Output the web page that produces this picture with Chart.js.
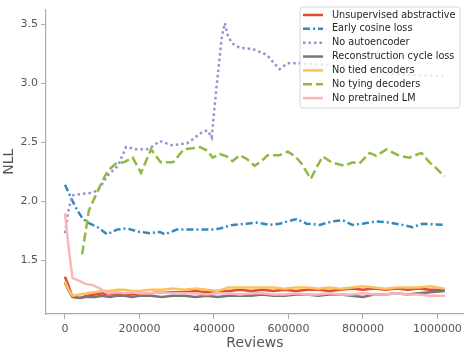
<!DOCTYPE html>
<html>
<head>
<meta charset="utf-8">
<script src="https://cdn.jsdelivr.net/npm/chart.js@4.4.1/dist/chart.umd.min.js"></script>
<style>
html,body{margin:0;padding:0;background:#fff;}
#wrap{width:466px;height:352px;position:relative;}
</style>
</head>
<body>
<div id="wrap"><canvas id="c" width="466" height="352"></canvas></div>
<script>
const seriesLabels = ["Unsupervised abstractive","Early cosine loss","No autoencoder","Reconstruction cycle loss","No tied encoders","No tying decoders","No pretrained LM"];
const xTicks = [0,200000,400000,600000,800000,1000000];
const yTicks = [1.5,2.0,2.5,3.0,3.5];

const redX = [0,10000,20000,40000,60000,80000,100000,120000,140000,160000,180000,200000,230000,260000,290000,320000,350000,380000,410000,440000,470000,500000,530000,560000,590000,620000,650000,680000,710000,740000,770000,800000,830000,860000,890000,920000,950000,980000,1020000];
const redY = [1.36,1.28,1.19,1.18,1.20,1.21,1.22,1.21,1.22,1.21,1.21,1.22,1.22,1.23,1.23,1.23,1.24,1.23,1.24,1.24,1.25,1.24,1.25,1.24,1.25,1.24,1.25,1.25,1.24,1.25,1.26,1.25,1.26,1.25,1.26,1.25,1.26,1.25,1.25];

const blueX = [0,19000,32000,48000,67000,88000,113000,139000,166000,201000,228000,255000,268000,300000,327000,362000,397000,416000,450000,488000,515000,550000,576000,622000,649000,684000,718000,745000,772000,799000,836000,871000,906000,933000,960000,1020000];
const blueY = [2.14,2.01,1.93,1.85,1.81,1.78,1.72,1.76,1.77,1.74,1.73,1.74,1.72,1.76,1.76,1.76,1.76,1.77,1.80,1.81,1.82,1.80,1.81,1.85,1.81,1.80,1.83,1.84,1.80,1.81,1.83,1.82,1.80,1.78,1.81,1.80];

const purpleX = [0,8000,19000,40000,67000,88000,115000,142000,164000,193000,220000,233000,255000,287000,327000,343000,370000,383000,394000,402000,410000,421000,429000,437000,448000,469000,504000,542000,576000,598000,622000,684000,764000,853000,925000,1020000];
const purpleY = [1.73,1.90,2.05,2.06,2.07,2.09,2.22,2.30,2.46,2.44,2.44,2.46,2.51,2.475,2.49,2.525,2.59,2.60,2.54,2.81,3.06,3.39,3.51,3.41,3.34,3.30,3.29,3.24,3.12,3.17,3.17,3.16,3.14,3.09,3.07,3.06];

const greyX = [0,10000,20000,40000,60000,80000,100000,120000,140000,160000,180000,200000,230000,260000,290000,320000,350000,380000,410000,440000,470000,500000,530000,560000,590000,620000,650000,680000,710000,740000,770000,800000,830000,860000,890000,920000,950000,980000,1020000];
const greyY = [1.31,1.24,1.19,1.18,1.19,1.19,1.20,1.19,1.20,1.20,1.19,1.20,1.20,1.19,1.20,1.20,1.19,1.20,1.19,1.20,1.20,1.20,1.21,1.20,1.20,1.21,1.21,1.20,1.21,1.21,1.20,1.19,1.21,1.21,1.22,1.21,1.22,1.23,1.24];

const yellowX = [0,10000,20000,40000,60000,80000,100000,120000,140000,160000,180000,200000,230000,260000,290000,320000,350000,380000,410000,440000,470000,500000,530000,560000,590000,620000,650000,680000,710000,740000,770000,800000,830000,860000,890000,920000,950000,980000,1020000];
const yellowY = [1.32,1.25,1.20,1.21,1.22,1.23,1.24,1.24,1.25,1.25,1.24,1.24,1.25,1.25,1.26,1.25,1.26,1.25,1.24,1.27,1.27,1.27,1.27,1.27,1.26,1.27,1.27,1.26,1.27,1.26,1.27,1.28,1.27,1.26,1.27,1.27,1.27,1.28,1.26];

const greenX = [46000,64000,91000,115000,137000,158000,182000,204000,231000,257000,290000,319000,343000,362000,381000,397000,416000,434000,450000,469000,488000,509000,528000,544000,576000,598000,617000,635000,660000,676000,692000,716000,751000,772000,791000,818000,836000,863000,898000,925000,957000,979000,997000,1019000];
const greenY = [1.55,1.92,2.11,2.26,2.32,2.33,2.37,2.24,2.44,2.33,2.33,2.44,2.45,2.46,2.43,2.37,2.40,2.38,2.34,2.39,2.36,2.30,2.34,2.39,2.39,2.42,2.385,2.32,2.19,2.29,2.38,2.33,2.30,2.33,2.32,2.41,2.385,2.44,2.385,2.37,2.41,2.33,2.28,2.21];

const pinkX = [0,10000,20000,35000,55000,75000,95000,115000,140000,160000,180000,200000,230000,260000,290000,320000,350000,380000,410000,440000,470000,500000,530000,560000,590000,620000,650000,680000,710000,740000,770000,800000,830000,860000,890000,920000,950000,980000,1020000];
const pinkY = [1.90,1.60,1.35,1.33,1.30,1.29,1.26,1.22,1.23,1.22,1.23,1.22,1.22,1.23,1.22,1.22,1.22,1.21,1.22,1.22,1.21,1.22,1.22,1.21,1.21,1.22,1.21,1.21,1.22,1.21,1.21,1.22,1.21,1.21,1.22,1.21,1.21,1.20,1.20];

const colors = ["#E24A33","#348ABD","#988ED5","#777777","#FBC15E","#8EBA42","#FFB5B8"];
const dashes = [[],[7,3,2,3],[2.5,3],[],[],[9,4],[]];
const xsAll = [redX,blueX,purpleX,greyX,yellowX,greenX,pinkX];
const ysAll = [redY,blueY,purpleY,greyY,yellowY,greenY,pinkY];

const datasets = seriesLabels.map((lab,i)=>({
  label: lab,
  data: xsAll[i].map((x,j)=>({x:x,y:ysAll[i][j]})),
  borderColor: colors[i],
  backgroundColor: colors[i],
  borderWidth: 2.5,
  borderDash: dashes[i],
  borderCapStyle: 'butt',
  pointRadius: 0,
  tension: 0,
  fill: false,
  order: 7 - i
}));

const FONT = "'DejaVu Sans', sans-serif";
const legendPlugin = {
  id: 'boxLegend',
  afterDraw(chart){
    const ctx = chart.ctx;
    const x0=300, y0=7, w=160, h=101, r=3;
    ctx.save();
    ctx.beginPath();
    ctx.moveTo(x0+r,y0);ctx.lineTo(x0+w-r,y0);ctx.quadraticCurveTo(x0+w,y0,x0+w,y0+r);
    ctx.lineTo(x0+w,y0+h-r);ctx.quadraticCurveTo(x0+w,y0+h,x0+w-r,y0+h);
    ctx.lineTo(x0+r,y0+h);ctx.quadraticCurveTo(x0,y0+h,x0,y0+h-r);
    ctx.lineTo(x0,y0+r);ctx.quadraticCurveTo(x0,y0,x0+r,y0);ctx.closePath();
    ctx.fillStyle='rgba(255,255,255,0.8)';ctx.fill();
    ctx.strokeStyle='rgba(204,204,204,0.8)';ctx.lineWidth=1;ctx.stroke();
    ctx.font = "9.7px " + FONT;
    ctx.textBaseline='middle';ctx.textAlign='left';
    chart.data.datasets.forEach((ds,i)=>{
      const cy = 15 + i*13.85;
      ctx.beginPath();
      ctx.setLineDash(ds.borderDash||[]);
      ctx.lineCap='butt';
      ctx.strokeStyle=ds.borderColor;ctx.lineWidth=2.5;
      ctx.moveTo(303,cy);ctx.lineTo(323,cy);ctx.stroke();
      ctx.setLineDash([]);
      ctx.fillStyle='#262626';
      ctx.fillText(ds.label,332,cy);
    });
    ctx.restore();
  }
};

new Chart(document.getElementById('c'),{
  type:'line',
  data:{datasets:datasets},
  options:{
    responsive:false,
    animation:false,
    devicePixelRatio:1,
    layout:{padding:{left:1,right:2,top:2,bottom:0}},
    plugins:{legend:{display:false},tooltip:{enabled:false}},
    scales:{
      x:{
        type:'linear',min:-51000,max:1071000,
        afterBuildTicks:(s)=>{s.ticks=xTicks.map(v=>({value:v}));},
        afterFit:(s)=>{s.height=38;},
        grid:{drawOnChartArea:false,drawTicks:true,tickLength:5,color:'#aaaaaa'},
        border:{display:true,color:'#aaaaaa',width:1.2},
        ticks:{color:'#555555',font:{family:FONT,size:11},padding:4,maxRotation:0,autoSkip:false,callback:(v)=>String(v)},
        title:{display:true,text:'Reviews',color:'#555555',font:{family:FONT,size:14},padding:{top:0,bottom:0}}
      },
      y:{
        type:'linear',min:1.045,max:3.624,
        afterBuildTicks:(s)=>{s.ticks=yTicks.map(v=>({value:v}));},
        afterFit:(s)=>{s.width=45;},
        grid:{drawOnChartArea:false,drawTicks:true,tickLength:5,color:'#aaaaaa'},
        border:{display:true,color:'#aaaaaa',width:1.2},
        ticks:{color:'#555555',font:{family:FONT,size:11},padding:3,callback:(v)=>v.toFixed(1)},
        title:{display:true,text:'NLL',color:'#555555',font:{family:FONT,size:14},padding:{top:0,bottom:0}}
      }
    }
  },
  plugins:[legendPlugin]
});
</script>
</body>
</html>
